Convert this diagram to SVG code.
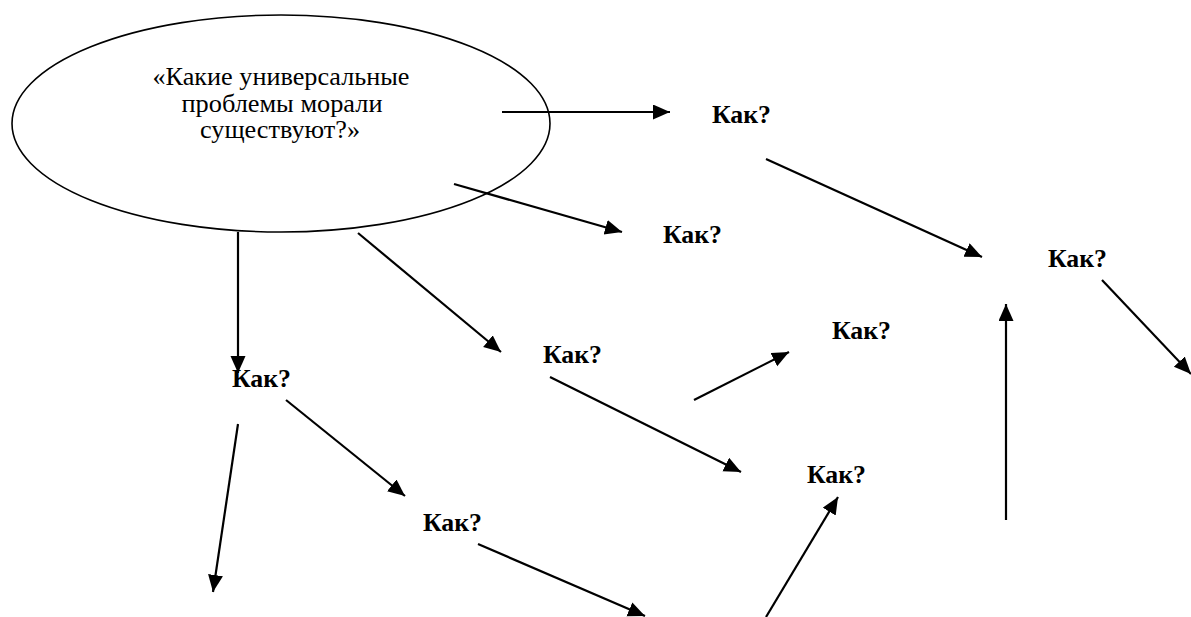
<svg xmlns="http://www.w3.org/2000/svg" width="1191" height="617" viewBox="0 0 1191 617">
  <style>
    .q { font-family: "Liberation Serif", "DejaVu Serif", serif; font-size: 26px; fill: #000; }
    .k { font-family: "Liberation Serif", "DejaVu Serif", serif; font-size: 26px; font-weight: bold; fill: #000; }
    .c line { stroke: #000; stroke-width: 2.2; marker-end: url(#ah); }
  </style>
  <defs>
    <marker id="ah" markerUnits="userSpaceOnUse" markerWidth="18" markerHeight="16" refX="17" refY="7.5" orient="auto">
      <path d="M0,0 L17,7.5 L0,15 z" fill="#000"/>
    </marker>
  </defs>
  <rect width="1191" height="617" fill="#fff"/>
  <g id="main">
    <ellipse cx="281" cy="123.5" rx="269" ry="108.5" fill="none" stroke="#000" stroke-width="1.6"/>
    <text class="q" font-family="Liberation Serif, serif" text-anchor="middle" x="281" y="85" textLength="257" lengthAdjust="spacingAndGlyphs">«Какие универсальные</text>
    <text class="q" font-family="Liberation Serif, serif" text-anchor="middle" x="282" y="111.5" textLength="201" lengthAdjust="spacingAndGlyphs">проблемы морали</text>
    <text class="q" font-family="Liberation Serif, serif" text-anchor="middle" x="280" y="138" textLength="160" lengthAdjust="spacingAndGlyphs">существуют?»</text>
  </g>
  <g id="n1"><text class="k" font-family="Liberation Serif, serif" x="712" y="123" textLength="59" lengthAdjust="spacingAndGlyphs">Как?</text></g>
  <g id="n2"><text class="k" font-family="Liberation Serif, serif" x="663" y="243" textLength="59" lengthAdjust="spacingAndGlyphs">Как?</text></g>
  <g id="n3"><text class="k" font-family="Liberation Serif, serif" x="1048" y="267" textLength="59" lengthAdjust="spacingAndGlyphs">Как?</text></g>
  <g id="n4"><text class="k" font-family="Liberation Serif, serif" x="832" y="339" textLength="59" lengthAdjust="spacingAndGlyphs">Как?</text></g>
  <g id="n5"><text class="k" font-family="Liberation Serif, serif" x="543" y="363" textLength="59" lengthAdjust="spacingAndGlyphs">Как?</text></g>
  <g id="n6"><text class="k" font-family="Liberation Serif, serif" x="232" y="387" textLength="59" lengthAdjust="spacingAndGlyphs">Как?</text></g>
  <g id="n7"><text class="k" font-family="Liberation Serif, serif" x="807" y="483" textLength="59" lengthAdjust="spacingAndGlyphs">Как?</text></g>
  <g id="n8"><text class="k" font-family="Liberation Serif, serif" x="423" y="531" textLength="59" lengthAdjust="spacingAndGlyphs">Как?</text></g>
  <g id="connectors" class="c">
    <line x1="502" y1="112" x2="670" y2="112"/>
    <line x1="454" y1="184" x2="622" y2="232"/>
    <line x1="766" y1="159" x2="982" y2="257"/>
    <line x1="1102" y1="280" x2="1191" y2="374"/>
    <line x1="1006" y1="520" x2="1006" y2="304"/>
    <line x1="694" y1="400" x2="789" y2="352"/>
    <line x1="550" y1="377" x2="741" y2="472"/>
    <line x1="766" y1="617" x2="838" y2="497"/>
    <line x1="238" y1="232" x2="238" y2="373"/>
    <line x1="358" y1="233" x2="501" y2="352"/>
    <line x1="286" y1="400" x2="405" y2="496"/>
    <line x1="238" y1="424" x2="213" y2="592"/>
    <line x1="478" y1="544" x2="645" y2="616"/>
  </g>
</svg>
